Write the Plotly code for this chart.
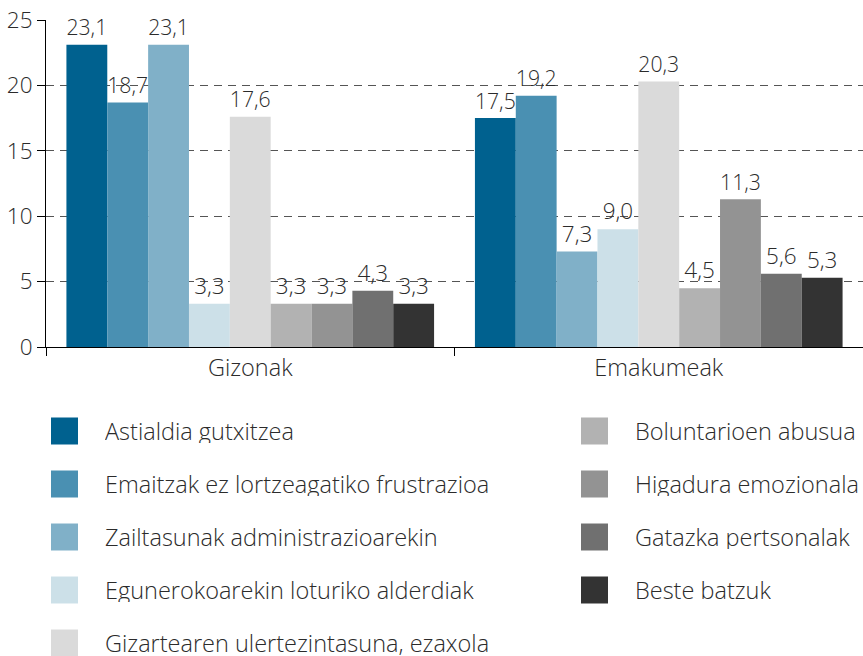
import plotly.graph_objects as go

groups = ["Gizonak", "Emakumeak"]
series = [
    "Astialdia gutxitzea",
    "Emaitzak ez lortzeagatiko frustrazioa",
    "Zailtasunak administrazioarekin",
    "Egunerokoarekin loturiko alderdiak",
    "Gizartearen ulertezintasuna, ezaxola",
    "Boluntarioen abusua",
    "Higadura emozionala",
    "Gatazka pertsonalak",
    "Beste batzuk",
]
gizonak = [23.1, 18.7, 23.1, 3.3, 17.6, 3.3, 3.3, 4.3, 3.3]
emakumeak = [17.5, 19.2, 7.3, 9.0, 20.3, 4.5, 11.3, 5.6, 5.3]
colors = ["#00618F", "#4A90B2", "#80B0C8", "#CCE0E8", "#DADADA",
          "#B2B2B2", "#939393", "#707070", "#333333"]
y_ticks = [0, 5, 10, 15, 20, 25]

FONT = "Open Sans"
WEIGHT = 300
TXT = "#2b2b2b"
W, H = 863, 656


def f(size):
    return dict(family=FONT, size=size, color=TXT, weight=WEIGHT)


fig = go.Figure()
for i, name in enumerate(series):
    fig.add_trace(go.Bar(
        x=groups, y=[gizonak[i], emakumeak[i]], name=name,
        marker=dict(color=colors[i], line=dict(width=0)),
        texttemplate="%{y:.1f}", textposition="outside",
        textfont=f(22.5), cliponaxis=False, showlegend=False,
    ))

# Custom legend: two columns laid out on a hidden helper axis pair
n_left = 5
leg_x = [0 if i < n_left else 1 for i in range(len(series))]
leg_y = [-(i if i < n_left else i - n_left) for i in range(len(series))]
fig.add_trace(go.Scatter(
    x=leg_x, y=leg_y, mode="markers", xaxis="x2", yaxis="y2",
    marker=dict(symbol="square", size=27, color=colors, line=dict(width=0)),
    showlegend=False, hoverinfo="skip",
))
for i, name in enumerate(series):
    fig.add_annotation(
        x=leg_x[i], y=leg_y[i], xref="x2", yref="y2", text=name,
        showarrow=False, xanchor="left", yanchor="middle", xshift=38,
        height=24, valign="middle", font=f(23.5),
    )

y0_px, y25_px = 347, 20
fig.update_layout(
    width=W, height=H, margin=dict(l=0, r=0, t=0, b=0, autoexpand=False),
    paper_bgcolor="white", plot_bgcolor="white",
    barmode="group", bargap=0.1, bargroupgap=0,
    separators=",.",
    font=f(22),
    xaxis=dict(
        domain=[46 / W, 1], showgrid=False, showline=True, automargin=False,
        linecolor="black", linewidth=1, ticks="outside",
        tickson="boundaries", ticklen=8, tickcolor="black",
        tickfont=f(23.5),
    ),
    yaxis=dict(
        domain=[(H - y0_px) / H, (H - y25_px) / H], range=[0, 25],
        automargin=False,
        tickvals=y_ticks, showline=True, linecolor="black", linewidth=1,
        ticks="outside", ticklen=8, tickcolor="black",
        showgrid=True, gridcolor="#555555", griddash="8px,6px", gridwidth=1,
        zeroline=False,
        tickfont=f(22.5),
    ),
    xaxis2=dict(domain=[0, 1], anchor="y2", visible=False, automargin=False,
                range=[-64.5 / 530, -64.5 / 530 + W / 530]),
    yaxis2=dict(domain=[0, 0.4], anchor="x2", visible=False, automargin=False,
                range=[0.7057 - 262.4 / 53, 0.7057]),
)

fig.write_html(
    "out.html",
    config={"displayModeBar": False},
    post_script="document.body.style.margin='0';document.body.style.overflow='hidden';",
)
